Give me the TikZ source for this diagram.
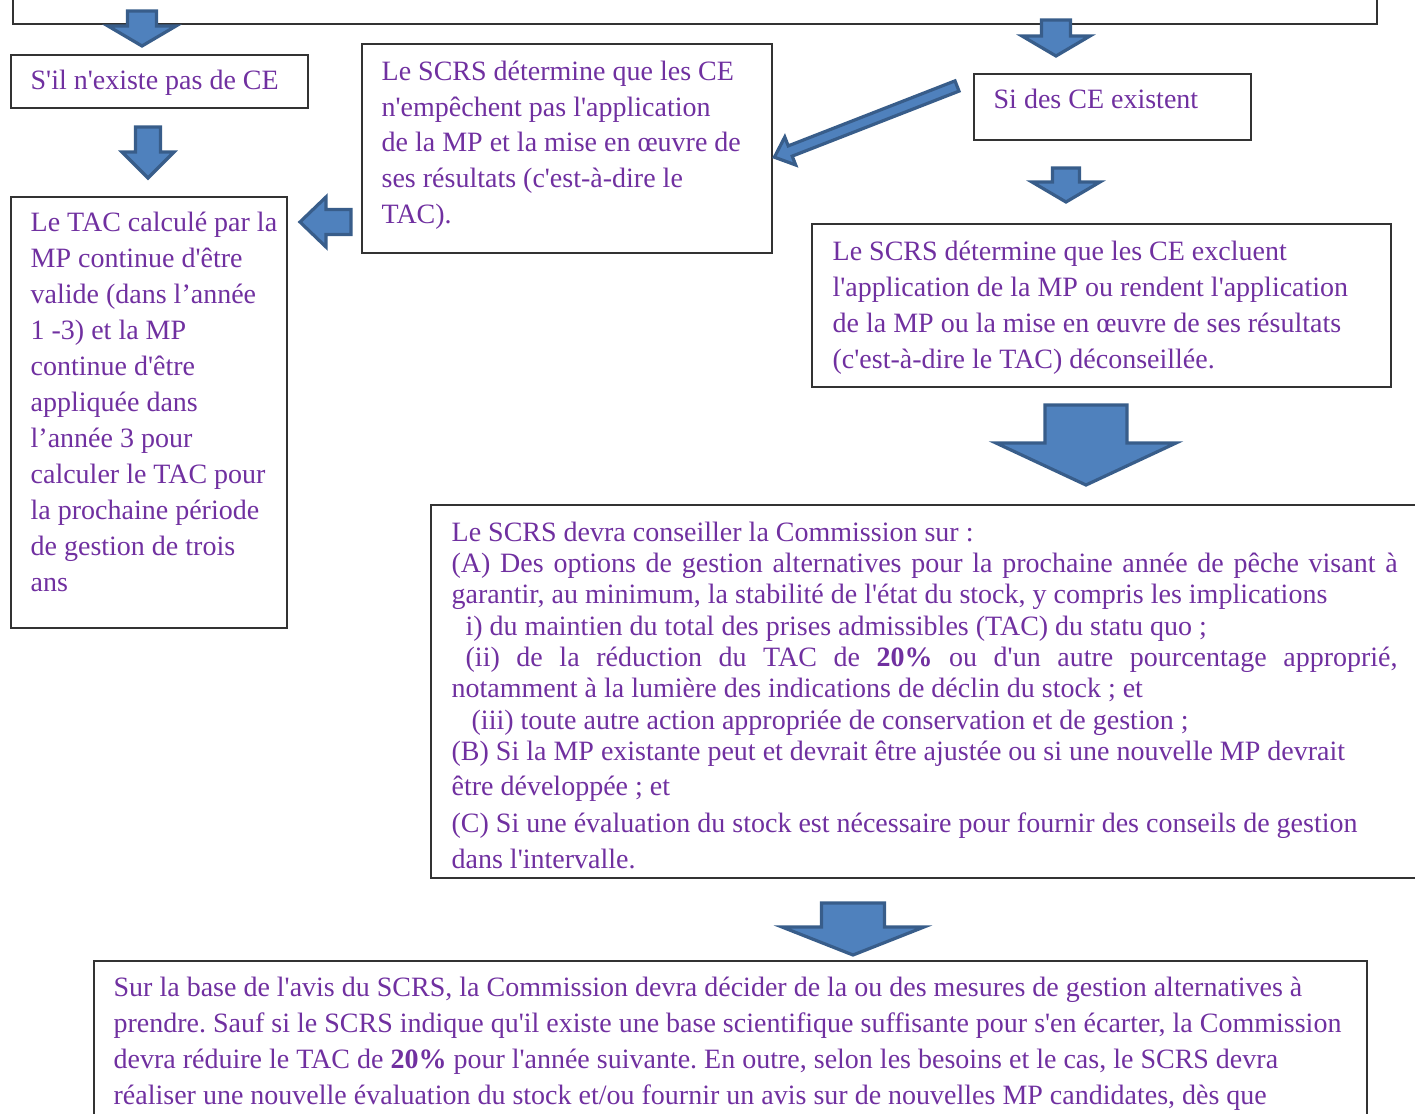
\documentclass[tikz,border=0pt]{standalone}
\usepackage{fontspec}
\usepackage{tikz}
\usetikzlibrary{calc}
\usetikzlibrary{fit}
\usetikzlibrary{positioning}

\newfontfamily\docfont{Liberation Serif}
\definecolor{txtpurple}{RGB}{112,48,160}
\definecolor{arrowfill}{RGB}{79,129,189}
\definecolor{arrowline}{RGB}{56,93,138}

% block arrow: tail, angle, length, shaft half width, head half width, head length
\newcommand{\blockarrow}[6]{%
  \draw[blk, shift={#1}, rotate=#2] (0,-#4) -- (#3-#6,-#4) -- (#3-#6,-#5) -- (#3,0)
    -- (#3-#6,#5) -- (#3-#6,#4) -- (0,#4) -- cycle;}

\begin{document}
\begin{tikzpicture}[
  x=0.5pt, y=-0.5pt,
  box/.style = {draw=black!80, line width=0.75pt, inner sep=0pt},
  txt/.style = {text=txtpurple, font=\docfont\frenchspacing\fontsize{14pt}{18pt}\selectfont,
                inner sep=0pt, anchor=base west, align=justify, text width=900pt},
  blk/.style = {fill=arrowfill, draw=arrowline, line width=1.6pt, line join=miter}
  ]
	\useasboundingbox (0,0) rectangle (1415,1114);

	% boxes
	\node[box, fit={(13,-20) (1377,24)}] (topbox) {};
	\node[box, fit={(11,55) (308,108)}] (nobox) {};
	\node[box, fit={(11,197) (287,628)}] (tacbox) {};
	\node[box, fit={(362,44) (772,253)}] (okbox) {};
	\node[box, fit={(974,74) (1251,140)}] (cebox) {};
	\node[box, fit={(812,224) (1391,387)}] (exbox) {};
	\node[box, fit={(431,505) (1430,878)}] (advbox) {};
	\node[box, fit={(94,961) (1367,1140)}] (decbox) {};

	% texts
	\node[txt] (notxt) at ($(nobox.north west)+(20,35)$) {S'il n'existe pas de CE};
	\node[txt] (tactxt) at ($(tacbox.north west)+(20,35)$) {Le TAC calculé par la\\
		MP continue d'être\\
		valide (dans l’année\\
		1 -3) et la MP\\
		continue d'être\\
		appliquée dans\\
		l’année 3 pour\\
		calculer le TAC pour\\
		la prochaine période\\
		de gestion de trois\\
		ans};
	\node[txt, font=\docfont\frenchspacing\fontsize{14pt}{17.9pt}\selectfont] (oktxt) at ($(okbox.north west)+(20,37)$) {Le SCRS détermine que les CE\\
		n'empêchent pas l'application\\
		de la MP et la mise en œuvre de\\
		ses résultats (c'est-à-dire le\\
		TAC).};
	\node[txt] (cetxt) at ($(cebox.north west)+(20,35)$) {Si des CE existent};
	\node[txt] (extxt) at ($(exbox.north west)+(21,37)$) {Le SCRS détermine que les CE excluent\\
		l'application de la MP ou rendent l'application\\
		de la MP ou la mise en œuvre de ses résultats\\
		(c'est-à-dire le TAC) déconseillée.};
	\node[txt, font=\docfont\frenchspacing\fontsize{14pt}{15.65pt}\selectfont] (advtxt) at ($(advbox.north west)+(21,37)$) {Le SCRS devra conseiller la Commission sur :\\
		\makebox[473pt][s]{(A) Des options de gestion alternatives pour la prochaine année de pêche visant à}\\
		garantir, au minimum, la stabilité de l'état du stock, y compris les implications\\
		\hspace*{7pt}i) du maintien du total des prises admissibles (TAC) du statu quo ;\\
		\hspace*{7pt}\makebox[466pt][s]{(ii) de la réduction du TAC de \textbf{20\%} ou d'un autre pourcentage approprié,}\\
		notamment à la lumière des indications de déclin du stock ; et\\
		\hspace*{10pt}(iii) toute autre action appropriée de conservation et de gestion ;\\
		(B) Si la MP existante peut et devrait être ajustée ou si une nouvelle MP devrait\\[2pt]
		être développée ; et\\[2.8pt]
		(C) Si une évaluation du stock est nécessaire pour fournir des conseils de gestion\\[2.2pt]
		dans l'intervalle.};
	\node[txt] (dectxt) at ($(decbox.north west)+(20,36)$) {Sur la base de l'avis du SCRS, la Commission devra décider de la ou des mesures de gestion alternatives à\\
		prendre. Sauf si le SCRS indique qu'il existe une base scientifique suffisante pour s'en écarter, la Commission\\
		devra réduire le TAC de \textbf{20\%} pour l'année suivante. En outre, selon les besoins et le cas, le SCRS devra\\
		réaliser une nouvelle évaluation du stock et/ou fournir un avis sur de nouvelles MP candidates, dès que};

	% block arrows
	\blockarrow{(142,11)}{-90}{35}{14.5}{34}{20}
	\blockarrow{(148,127)}{-90}{51}{12.5}{26}{26}
	\blockarrow{(351,222)}{180}{51}{12.5}{25}{26}
	\blockarrow{(957,86)}{201.3}{196}{5.5}{15}{17}
	\blockarrow{(1056,20)}{-90}{36}{14.5}{34}{20}
	\blockarrow{(1066,168)}{-90}{34}{13.5}{34}{20}
	\blockarrow{(1086,405)}{-90}{80}{41}{90}{42}
	\blockarrow{(853,903)}{-90}{52}{31.5}{71}{28}
\end{tikzpicture}
\end{document}
